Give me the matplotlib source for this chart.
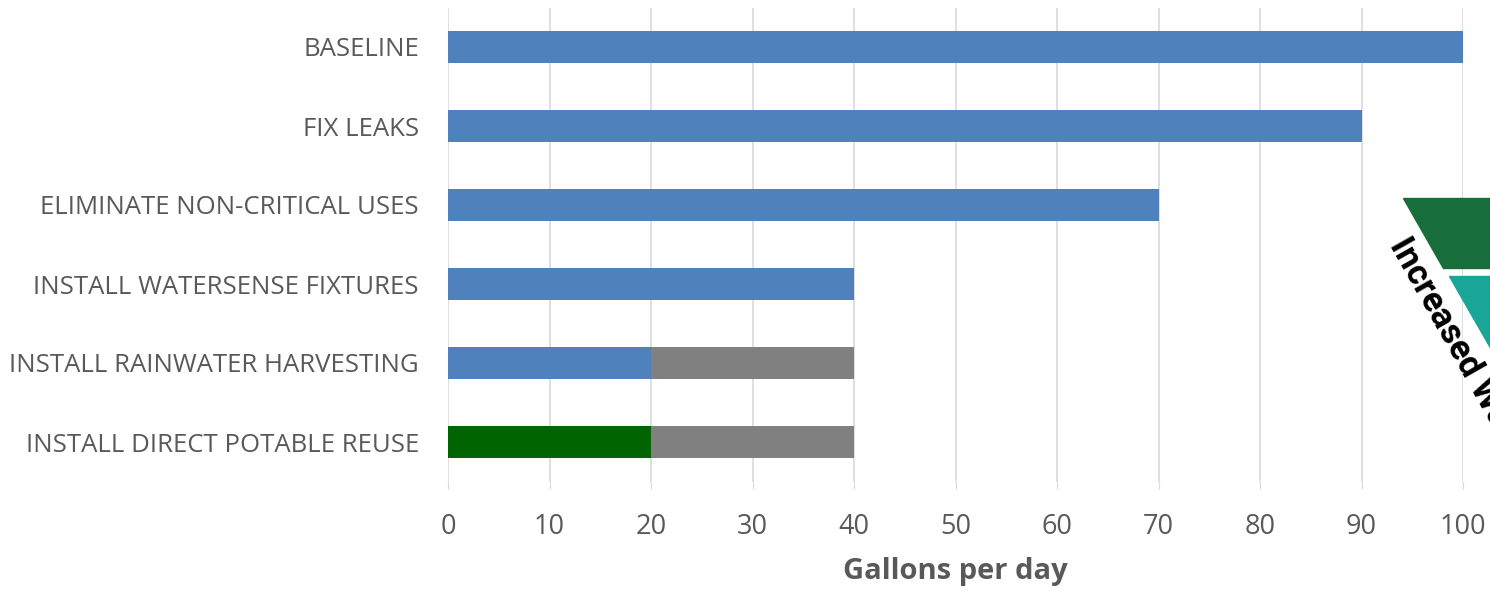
import matplotlib.pyplot as plt
from matplotlib.patches import Polygon

# chart data, top to bottom
categories = ['BASELINE', 'FIX LEAKS', 'ELIMINATE NON-CRITICAL USES',
              'INSTALL WATERSENSE FIXTURES', 'INSTALL RAINWATER HARVESTING',
              'INSTALL DIRECT POTABLE REUSE']
potable = [100, 90, 70, 40, 20, 0]
reuse = [0, 0, 0, 0, 0, 20]
offset = [0, 0, 0, 0, 20, 20]
x_ticks = [0, 10, 20, 30, 40, 50, 60, 70, 80, 90, 100]

plt.rcParams['font.family'] = ['Open Sans', 'DejaVu Sans']

fig = plt.figure(figsize=(14.9, 5.91), dpi=100)
ax = fig.add_axes([448 / 1490, 1 - 481.5 / 591, 1015 / 1490, 474 / 591])

y = list(range(len(categories)))
h = 0.4
ax.barh(y, potable, height=h, color='#4F81BD', zorder=3)
ax.barh(y, reuse, height=h, left=potable, color='#006400', zorder=3)
base = [p + r for p, r in zip(potable, reuse)]
ax.barh(y, offset, height=h, left=base, color='#808080', zorder=3)

ax.set_ylim(len(categories) - 0.5, -0.5)
ax.set_xlim(0, 100)
ax.set_yticks(y)
ax.set_yticklabels(categories, fontsize=18.5, color='#595959')
ax.set_xticks(x_ticks)
ax.set_xticklabels([str(t) for t in x_ticks], fontsize=19.5, color='#595959')
ax.tick_params(axis='y', length=0, pad=21)
ax.tick_params(axis='x', length=5, color='#D9D9D9', pad=18)
ax.grid(axis='x', color='#D9D9D9', linewidth=1.2, zorder=0)
for s in ax.spines.values():
    s.set_visible(False)
ax.set_xlabel('Gallons per day', fontsize=21, fontweight='bold', color='#595959')
ax.xaxis.set_label_coords(0.5, -0.19)
ax.xaxis.label.set_va('center')

# funnel graphic on the right edge (pixel coords -> figure fraction)
def fig_pts(pts):
    return [(px / 1490, 1 - py / 591) for px, py in pts]

fig.patches.append(Polygon(fig_pts([(1403, 198), (1492, 198), (1492, 268), (1443, 268)]),
                           closed=True, color='#176E3B', transform=fig.transFigure, zorder=5))
fig.patches.append(Polygon(fig_pts([(1449, 276), (1492, 276), (1492, 351)]),
                           closed=True, color='#1AA696', transform=fig.transFigure, zorder=5))
fig.text(1412 / 1490, 1 - 232 / 591, 'Increased Water', rotation=-60.5,
         rotation_mode='anchor', ha='left', va='top', fontsize=25,
         fontweight='bold', family='Roboto', color='black')

fig.savefig('out.png', dpi=100)
